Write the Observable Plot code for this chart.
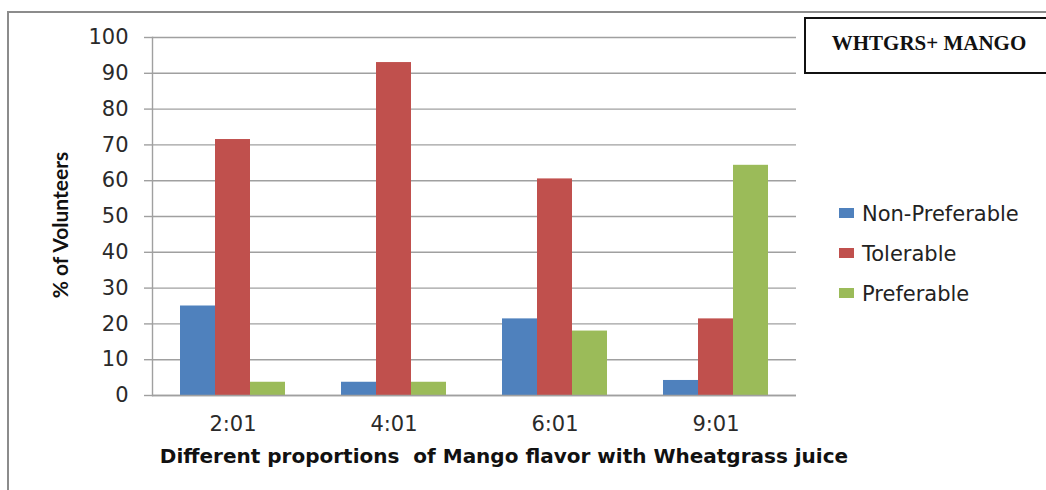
<!DOCTYPE html>
<html><head><meta charset="utf-8">
<script src="https://cdn.jsdelivr.net/npm/d3@7"></script>
<script src="https://cdn.jsdelivr.net/npm/@observablehq/plot@0.6"></script>
<style>
body{margin:0;background:#fff;}
#wrap{position:relative;width:1046px;height:490px;overflow:hidden;background:#fff;}
#border{position:absolute;left:7px;top:11px;width:1100px;height:600px;border-left:2px solid #8c8c8c;border-top:2px solid #8c8c8c;}
#chart{position:absolute;left:0;top:0;}
#title{position:absolute;left:804px;top:17px;width:260px;height:57px;border:2px solid #111;box-sizing:border-box;}
#title span{position:absolute;left:0;width:246px;top:12px;text-align:center;font:bold 21px "Liberation Serif",serif;color:#111;white-space:nowrap;}
#legend{position:absolute;left:839px;top:200px;font:21px "DejaVu Sans",sans-serif;color:#222;}
.item{position:absolute;left:0;white-space:nowrap;height:28px;line-height:28px;}
.sw{display:inline-block;width:15px;height:10px;margin-right:8px;vertical-align:middle;position:relative;top:-2px;}
#ylab{position:absolute;left:59px;top:225px;transform:translate(-50%,-50%) rotate(-90deg);font:bold 21px Lato,sans-serif;color:#111;white-space:nowrap;}
#xlab{position:absolute;left:0;width:1008px;top:444px;text-align:center;font:bold 20px "DejaVu Sans",sans-serif;color:#111;white-space:nowrap;}
</style></head>
<body>
<div id="wrap">
  <div id="border"></div>
  <div id="chart"></div>
  <div id="title"><span>WHTGRS+ MANGO</span></div>
  <div id="legend"></div>
  <div id="ylab">% of Volunteers</div>
  <div id="xlab">Different proportions&nbsp; of Mango flavor with Wheatgrass juice</div>
</div>
<script>
const ratios = ["2:01", "4:01", "6:01", "9:01"];
const series = ["Non-Preferable", "Tolerable", "Preferable"];
const nonPreferable = [25, 3.7, 21.4, 4.2];
const tolerable = [71.5, 93, 60.5, 21.4];
const preferable = [3.7, 3.7, 18, 64.3];
const yTicks = [0, 10, 20, 30, 40, 50, 60, 70, 80, 90, 100];
const colors = ["#4F81BD", "#C0504D", "#9BBB59"];

const valuesBySeries = [nonPreferable, tolerable, preferable];
const data = ratios.flatMap((r, i) => series.map((s, j) => ({ratio: r, group: s, value: valuesBySeries[j][i]})));

const gridColor = "#a0a0a0";
const chart = Plot.plot({
  width: 1046,
  height: 490,
  marginLeft: 150,
  marginRight: 249,
  marginTop: 37,
  marginBottom: 95,
  style: {fontFamily: "DejaVu Sans, sans-serif", fontSize: "21px", color: "#222", background: "transparent", overflow: "visible"},
  fx: {domain: ratios, padding: 0, label: null},
  x: {domain: series, paddingInner: 0, paddingOuter: 0.745, axis: null},
  y: {domain: [0, 100], axis: null},
  color: {domain: series, range: colors},
  marks: [
    Plot.gridY(yTicks, {stroke: gridColor, strokeOpacity: 1, strokeWidth: 1.4}),
    Plot.axisY(yTicks, {tickSize: 8, tickPadding: 16, stroke: gridColor, strokeWidth: 1.4, label: null, fill: "#2a2a2a"}),
    Plot.axisFx({anchor: "bottom", tickSize: 0, tickPadding: 21, label: null, fill: "#2a2a2a"}),
    Plot.barY(data, {fx: "ratio", x: "group", y: "value", fill: "group"}),
    Plot.ruleY([0], {stroke: gridColor, strokeWidth: 1.4}),
    Plot.frame({anchor: "left", facet: "super", stroke: gridColor, strokeWidth: 1.4})
  ]
});
document.getElementById("chart").appendChild(chart);

const legend = document.getElementById("legend");
series.forEach((s, i) => {
  const it = document.createElement("div");
  it.className = "item";
  it.style.top = (i * 40) + "px";
  const sw = document.createElement("span");
  sw.className = "sw";
  sw.style.background = colors[i];
  it.appendChild(sw);
  it.appendChild(document.createTextNode(s));
  legend.appendChild(it);
});
</script>
</body></html>
